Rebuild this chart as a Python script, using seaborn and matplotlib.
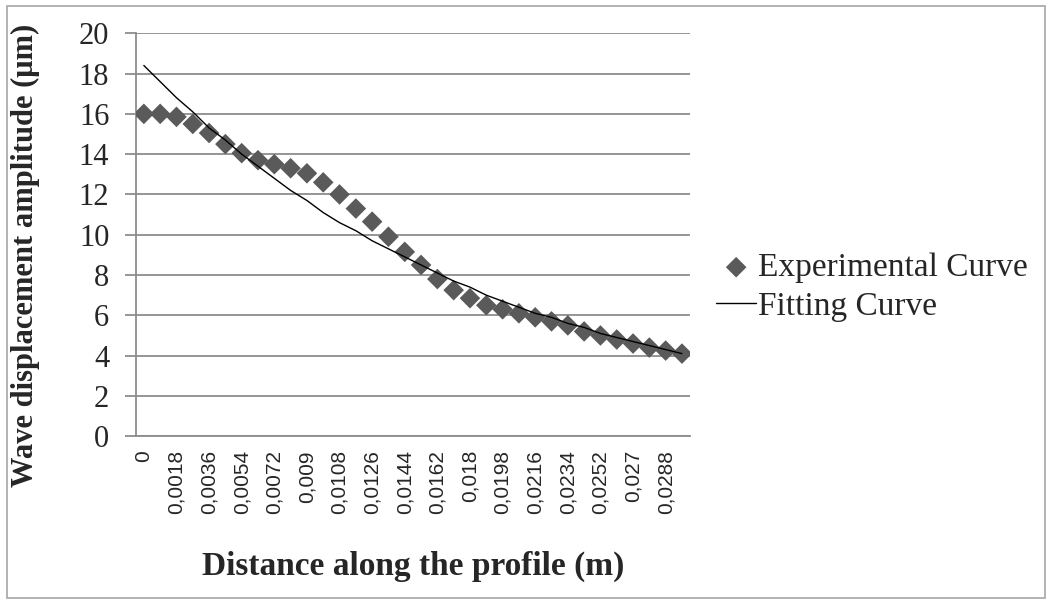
import matplotlib
matplotlib.use("Agg")
import matplotlib.pyplot as plt
import seaborn as sns
import pandas as pd
from matplotlib.patches import Rectangle

# Số liệu
distance = [0, 0.0009, 0.0018, 0.0027, 0.0036, 0.0045, 0.0054, 0.0063, 0.0072, 0.0081,
            0.009, 0.0099, 0.0108, 0.0117, 0.0126, 0.0135, 0.0144, 0.0153, 0.0162, 0.0171,
            0.018, 0.0189, 0.0198, 0.0207, 0.0216, 0.0225, 0.0234, 0.0243, 0.0252, 0.0261,
            0.027, 0.0279, 0.0288, 0.0297]
experimental = [16.0, 16.0, 15.85, 15.5, 15.05, 14.5, 14.05, 13.7, 13.5, 13.3,
                13.05, 12.6, 12.0, 11.3, 10.65, 9.9, 9.15, 8.5, 7.8, 7.25,
                6.85, 6.5, 6.3, 6.1, 5.9, 5.7, 5.5, 5.2, 5.0, 4.8,
                4.6, 4.4, 4.25, 4.1]
fitting = [18.4, 17.6, 16.8, 16.1, 15.3, 14.7, 14.0, 13.4, 12.8, 12.2,
           11.7, 11.1, 10.6, 10.2, 9.7, 9.3, 8.9, 8.5, 8.1, 7.7,
           7.4, 7.0, 6.7, 6.4, 6.1, 5.9, 5.6, 5.4, 5.1, 4.9,
           4.7, 4.5, 4.3, 4.1]
tick_dist = distance[::2]
tick_labels = [f"{d:g}".replace(".", ",") for d in tick_dist]

df = pd.DataFrame({"distance": distance, "experimental": experimental, "fitting": fitting})

sns.set_style("white")
plt.rcParams["font.family"] = ["Liberation Serif", "DejaVu Serif"]

fig = plt.figure(figsize=(10.52, 6.05), dpi=100)
ax = fig.add_axes([0.129, 0.279, 0.527, 0.666])

sns.scatterplot(data=df, x="distance", y="experimental", ax=ax, marker="D", s=110,
                color="#5a5a5a", edgecolor="none", label="Experimental Curve", zorder=3)
sns.lineplot(data=df, x="distance", y="fitting", ax=ax, color="black", linewidth=1.0,
             label="Fitting Curve", zorder=4)

ax.set_xlim(-0.00045, 0.0297 + 0.00045)
ax.set_ylim(0, 20)
ax.set_yticks(range(0, 21, 2))
ax.yaxis.grid(True, color="#8c8c8c", linewidth=1.3)
ax.set_axisbelow(True)
ax.set_xticks(tick_dist)
ax.set_xticklabels(tick_labels, rotation=90, fontsize=15, family=["Liberation Sans"])
ax.tick_params(axis="x", length=0, pad=10)
ax.tick_params(axis="y", length=8, width=1.3, color="#8c8c8c", labelsize=22, pad=11, left=True)
for side in ["top", "right"]:
    ax.spines[side].set_visible(False)
for side in ["left", "bottom"]:
    ax.spines[side].set_color("#8c8c8c")
    ax.spines[side].set_linewidth(1.3)

ax.set_xlabel("Distance along the profile (m)", fontsize=24, fontweight="bold", labelpad=26)
ax.set_ylabel("Wave displacement amplitude (μm)", fontsize=22, fontweight="bold")
ax.yaxis.set_label_coords(-0.172, 0.45)

ax.legend(loc="center left", bbox_to_anchor=(1.047, 0.37), frameon=False, fontsize=24,
          handlelength=1.2, handletextpad=0.05, labelspacing=0.25, borderaxespad=0,
          borderpad=0)

fig.patches.append(Rectangle((0.007, 0.012), 0.986, 0.978, transform=fig.transFigure,
                             fill=False, edgecolor="#a6a6a6", linewidth=1.2))

fig.savefig("out.png", dpi=100)
